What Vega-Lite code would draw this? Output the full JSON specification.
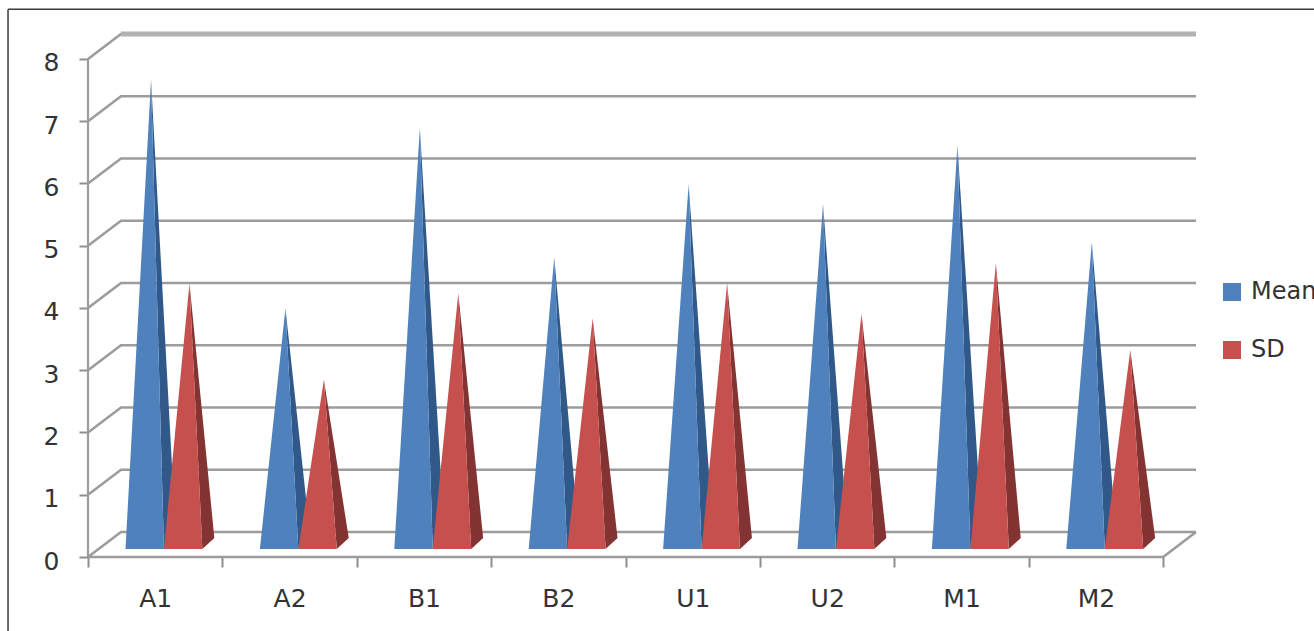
{
  "$schema": "https://vega.github.io/schema/vega-lite/v6.json",
  "width": 1108,
  "height": 523,
  "autosize": {"type": "none"},
  "padding": {"left": 88, "top": 34, "right": 118, "bottom": 74},
  "background": "white",
  "config": {
    "view": {"stroke": null},
    "font": "DejaVu Sans"
  },
  "datasets": {
    "pyramids": [
      {"category": "A1", "series": "Mean", "value": 7.45},
      {"category": "A1", "series": "SD", "value": 4.18},
      {"category": "A2", "series": "Mean", "value": 3.78},
      {"category": "A2", "series": "SD", "value": 2.63},
      {"category": "B1", "series": "Mean", "value": 6.67},
      {"category": "B1", "series": "SD", "value": 4.02},
      {"category": "B2", "series": "Mean", "value": 4.6},
      {"category": "B2", "series": "SD", "value": 3.62},
      {"category": "U1", "series": "Mean", "value": 5.77},
      {"category": "U1", "series": "SD", "value": 4.18},
      {"category": "U2", "series": "Mean", "value": 5.45},
      {"category": "U2", "series": "SD", "value": 3.69},
      {"category": "M1", "series": "Mean", "value": 6.4},
      {"category": "M1", "series": "SD", "value": 4.5},
      {"category": "M2", "series": "Mean", "value": 4.84},
      {"category": "M2", "series": "SD", "value": 3.11}
    ],
    "levels": [
      {"level": 0}, {"level": 1}, {"level": 2}, {"level": 3}, {"level": 4},
      {"level": 5}, {"level": 6}, {"level": 7}, {"level": 8}
    ],
    "single": [{}]
  },
  "layer": [
    {
      "description": "Outer frame of the chart object, left edge",
      "data": {"name": "single"},
      "mark": {"type": "rule", "color": "#3a3a3a", "strokeWidth": 1.5},
      "encoding": {
        "x": {"datum": -0.595, "type": "quantitative", "scale": {"domain": [0, 8.244], "nice": false, "zero": false},
          "axis": {
            "values": [0, 0.5, 1, 1.5, 2, 2.5, 3, 3.5, 4, 4.5, 5, 5.5, 6, 6.5, 7, 7.5, 8],
            "title": null, "grid": false, "domain": false,
            "tickColor": "#8f8f8f", "tickWidth": 2, "tickSize": 10,
            "tickOpacity": {"expr": "datum.value % 1 === 0 ? 1 : 0"},
            "labelExpr": "datum.value % 1 === 0 ? '' : ['A1','A2','B1','B2','U1','U2','M1','M2'][floor(datum.value)]",
            "labelFontSize": 25, "labelColor": "#333333", "labelPadding": 19, "labelOverlap": false, "labelFlush": false, "labelAngle": 0
          }
        },
        "y": {"datum": 8.8, "type": "quantitative", "scale": {"domain": [0, 8.4016], "nice": false, "zero": false},
          "axis": {
            "values": [0, 1, 2, 3, 4, 5, 6, 7, 8],
            "format": "d",
            "title": null, "grid": false, "domain": false,
            "tickColor": "#8f8f8f", "tickWidth": 2, "tickSize": 9,
            "labelFontSize": 25, "labelColor": "#333333", "labelPadding": 20, "labelOffset": 4, "labelOverlap": false, "labelFlush": false
          }
        },
        "y2": {"datum": -1.3}
      }
    },
    {
      "description": "Outer frame of the chart object, top edge",
      "data": {"name": "single"},
      "mark": {"type": "rule", "color": "#3a3a3a", "strokeWidth": 1.5},
      "encoding": {
        "y": {"datum": 8.8, "type": "quantitative"},
        "x": {"datum": -0.595, "type": "quantitative"},
        "x2": {"datum": 9.2}
      }
    },
    {
      "description": "Side and back wall gridlines, one polyline per level",
      "data": {"name": "levels"},
      "transform": [
        {"calculate": "[0, 1, 2]", "as": "vertex"},
        {"flatten": ["vertex"]},
        {"calculate": "[0, 0.2455, 8.244][datum.vertex]", "as": "px"},
        {"calculate": "datum.level + [0, 0.4016, 0.4016][datum.vertex]", "as": "py"}
      ],
      "mark": {"type": "line", "color": "#9c9c9c", "strokeWidth": 2.6, "interpolate": "linear"},
      "encoding": {
        "x": {"field": "px", "type": "quantitative"},
        "y": {"field": "py", "type": "quantitative"},
        "detail": {"field": "level"}
      }
    },
    {
      "description": "Heavier top edge of the back wall",
      "data": {"name": "single"},
      "mark": {"type": "rule", "color": "#b2b2b2", "strokeWidth": 5},
      "encoding": {
        "x": {"datum": 0.2455, "type": "quantitative"},
        "x2": {"datum": 8.244},
        "y": {"datum": 8.4016, "type": "quantitative"}
      }
    },
    {
      "description": "Front and right edges of the floor",
      "data": {"name": "single"},
      "transform": [
        {"calculate": "[0, 1, 2]", "as": "vertex"},
        {"flatten": ["vertex"]},
        {"calculate": "[0, 8, 8.244][datum.vertex]", "as": "px"},
        {"calculate": "[0, 0, 0.4016][datum.vertex]", "as": "py"}
      ],
      "mark": {"type": "line", "color": "#9c9c9c", "strokeWidth": 2.6},
      "encoding": {
        "x": {"field": "px", "type": "quantitative"},
        "y": {"field": "py", "type": "quantitative"}
      }
    },
    {
      "description": "Front wall edge",
      "data": {"name": "single"},
      "mark": {"type": "rule", "color": "#9c9c9c", "strokeWidth": 2.2},
      "encoding": {
        "x": {"datum": 0, "type": "quantitative"},
        "y": {"datum": 0, "type": "quantitative"},
        "y2": {"datum": 8}
      }
    },
    {
      "description": "Shaded right face of each pyramid",
      "data": {"name": "pyramids"},
      "transform": [
        {"calculate": "indexof(['A1','A2','B1','B2','U1','U2','M1','M2'], datum.category) + 0.279 + (datum.series === 'SD' ? 0.286 : 0)", "as": "x0"},
        {"calculate": "datum.value + 0.217", "as": "apex"},
        {"calculate": "[0, 1, 2]", "as": "vertex"},
        {"flatten": ["vertex"]},
        {"calculate": "datum.x0 + [0.19, 0.286, 0.375][datum.vertex]", "as": "px"},
        {"calculate": "[datum.apex, datum.apex + (0.305 - datum.apex) * 0.5185, 0.305][datum.vertex]", "as": "top"},
        {"calculate": "[datum.apex, 0.128, 0.305][datum.vertex]", "as": "bottom"},
        {"calculate": "datum.category + datum.series", "as": "pyramid"}
      ],
      "mark": {"type": "area", "interpolate": "linear", "opacity": 1},
      "encoding": {
        "x": {"field": "px", "type": "quantitative"},
        "y": {"field": "top", "type": "quantitative", "stack": null},
        "y2": {"field": "bottom"},
        "detail": {"field": "pyramid"},
        "fill": {"condition": {"test": "datum.series === 'SD'", "value": "#833332"}, "value": "#30598a"}
      }
    },
    {
      "description": "Front face of each pyramid",
      "data": {"name": "pyramids"},
      "transform": [
        {"calculate": "indexof(['A1','A2','B1','B2','U1','U2','M1','M2'], datum.category) + 0.279 + (datum.series === 'SD' ? 0.286 : 0)", "as": "x0"},
        {"calculate": "[0, 1, 2]", "as": "vertex"},
        {"flatten": ["vertex"]},
        {"calculate": "datum.x0 + [0, 0.19, 0.286][datum.vertex]", "as": "px"},
        {"calculate": "[0.128, datum.value + 0.217, 0.128][datum.vertex]", "as": "top"},
        {"calculate": "0.128", "as": "bottom"},
        {"calculate": "datum.category + datum.series", "as": "pyramid"}
      ],
      "mark": {"type": "area", "interpolate": "linear", "opacity": 1},
      "encoding": {
        "x": {"field": "px", "type": "quantitative"},
        "y": {"field": "top", "type": "quantitative", "stack": null},
        "y2": {"field": "bottom"},
        "detail": {"field": "pyramid"},
        "color": {"field": "series", "type": "nominal",
          "scale": {"domain": ["Mean", "SD"], "range": ["#4f81bd", "#c5504e"]},
          "legend": {
            "title": null, "orient": "none", "legendX": 1132, "legendY": 246,
            "symbolType": "square", "symbolSize": 324, "symbolStrokeWidth": 0, "symbolOpacity": 1,
            "labelFontSize": 24, "labelColor": "#333333", "labelOffset": 7, "rowPadding": 34
          }
        }
      }
    }
  ]
}
